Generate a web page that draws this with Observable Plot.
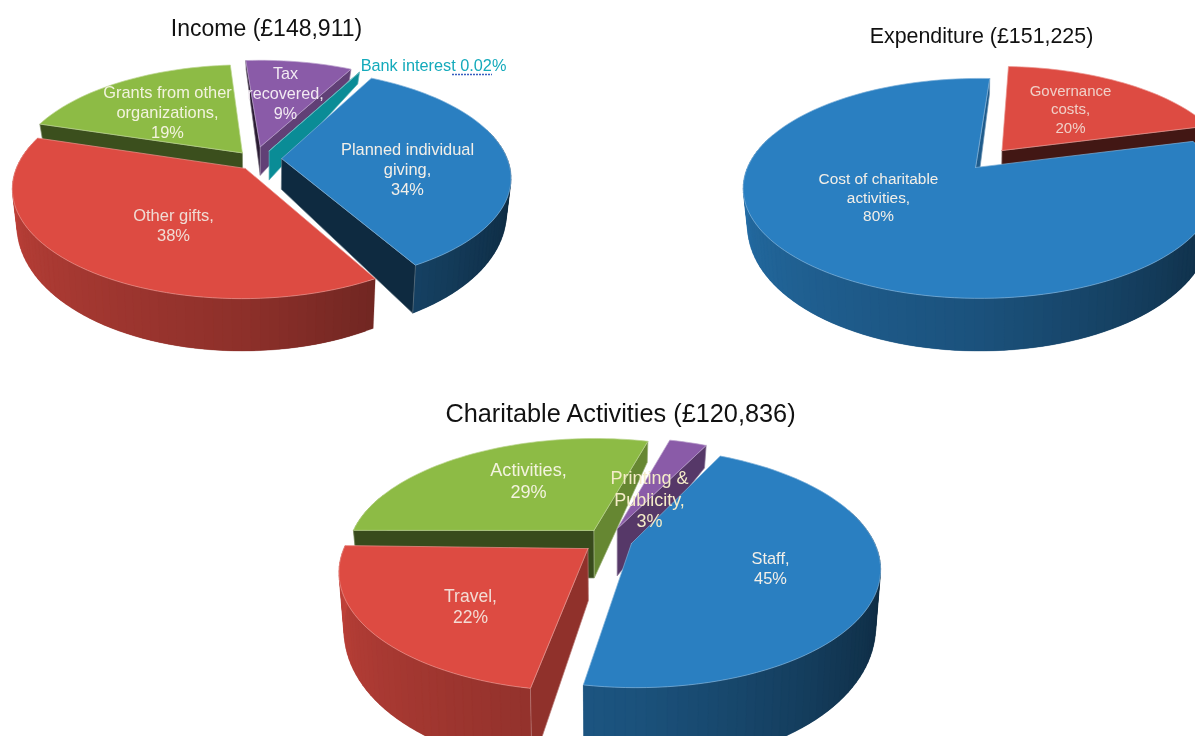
<!DOCTYPE html>
<html><head><meta charset="utf-8">
<style>html,body{margin:0;padding:0;background:#fff;overflow:hidden}svg{display:block;filter:blur(0.4px)}</style>
<script src="https://cdn.jsdelivr.net/npm/d3@7"></script>
<script src="https://cdn.jsdelivr.net/npm/@observablehq/plot@0.6"></script>
</head><body>
<script>
// ---- data ----
const incomeCategories = ["Planned individual\ngiving,\n34%", "Other gifts,\n38%", "Grants from other\norganizations,\n19%", "Tax\nrecovered,\n9%", "Bank interest 0.02%"];
const incomeValues = [34, 38, 19, 9, 0.02];
const expenditureCategories = ["Cost of charitable\nactivities,\n80%", "Governance\ncosts,\n20%"];
const expenditureValues = [80, 20];
const activityCategories = ["Staff,\n45%", "Travel,\n22%", "Activities,\n29%", "Printing &\nPublicity,\n3%"];
const activityValues = [45, 22, 29, 3];
const titles = ["Income (£148,911)", "Expenditure (£151,225)", "Charitable Activities (£120,836)"];

// ---- styling and layout ----
const BLUE="#2a7fc1", RED="#dd4b42", GREEN="#8dbb45", PURPLE="#8a5ba8", TEAL="#0a8c96";
const pies = [
 {title:titles[0], titleAt:[266,27], titleSize:23, cats:incomeCategories, vals:incomeValues,
  c:[262,165], rx:228, ry:107, p:0.17, D:32, q:0.62, rot:28,
  colors:[BLUE,RED,GREEN,PURPLE,TEAL],
  off:[[.085,-.065],[-.075,.027],[-.09,-.12],[-.01,-.18],[.03,-.14]],
  walls:[[.3,.33],[.5,.5],[.42,.6],[.3,.7],[1,1]],
  order:[3,4,2,0,1],
  labels:[[407,168,16.4,"#f3efe8"],[173,224,16.5,"#f0dcd4"],[167,111.5,16.4,"#f3f3df"],[285,92,16.2,"#f2eaf2"],[433,64,16.3,"#14aabb"]]},
 {title:titles[1], titleAt:[981,34], titleSize:21.4, cats:expenditureCategories, vals:expenditureValues,
  c:[979,167], rx:232, ry:106, p:0.19, D:34, q:0.55, rot:75,
  colors:[BLUE,RED],
  off:[[0,0],[.1,-.165]],
  apex:[[-.017,0],[.1,-.165]],
  walls:[[.5,.72],[.5,.3]],
  order:[1,0],
  labels:[[878,196,15.4,"#f3efe8"],[1070,108,15,"#f0d0c8"]]},
 {title:titles[2], titleAt:[620,412], titleSize:25.3, cats:activityCategories, vals:activityValues,
  c:[612,540], rx:242, ry:114, p:0.2, D:50, q:0.55, rot:26.4,
  colors:[BLUE,RED,GREEN,PURPLE],
  off:[[.078,.026],[-.095,.045],[-.09,-.09],[.02,-.105]],
  apex:[[.078,.026],[-.1,.07],[-.078,-.09],[.02,-.105]],
  walls:[[.5,.5],[.65,.5],[.4,.72],[.5,.62]],
  order:[3,2,0,1],
  labels:[[770,567,16.4,"#f3efe8"],[470,605,17.5,"#f3dcd4"],[528,479,18.1,"#f3f3df"],[649,498,18,"#f4ecc8"]]}
];
const CONVERGE = 0.982;
const outerShade = d3.scaleLinear([0,90,130,180,270,360],[.3,.3,.42,.64,.88,.88]); // brightness of the outer wall by angle

const polys = [], texts = [];
let pid = 0;
function addPoly(pts, fill, stroke, sw){
  pid++;
  [...pts, pts[0]].forEach(([x,y]) => polys.push({id:pid, x, y, fill, stroke, sw}));
}
const tint = (c,t) => d3.interpolateRgb(c,"#fff")(t);
const shade = (c,s) => s<1 ? d3.interpolateRgb("#000",c)(s) : c;

pies.forEach(P => {
  const total = d3.sum(P.vals);
  const proj = (u,v) => {
    const w = 1 - P.p*v;
    return {x:P.c[0]+P.rx*u/w, y:P.c[1]+P.ry*v/w, d:P.D*(1+P.q*v)};
  };
  const top = a => [a.x, a.y];
  const bot = a => [P.c[0]+(a.x-P.c[0])*CONVERGE, a.y+a.d];
  let a0 = P.rot;
  const spans = P.vals.map(v => { const s=[a0, a0+v/total*360]; a0=s[1]; return s; });
  P.order.forEach(i => {
    const [t0,t1] = spans[i], [ou,ov] = P.off[i], col = P.colors[i];
    const rim = th => { const r=th*Math.PI/180; return proj(ou+Math.sin(r), ov-Math.cos(r)); };
    const [au,av] = (P.apex||P.off)[i];
    const apex = proj(au,av);
    const n = Math.max(1, Math.ceil((t1-t0)/2));
    const ths = d3.range(n+1).map(k => t0+(t1-t0)*k/n);
    for (let k=0;k<n;k++){
      const mid = (ths[k]+ths[k+1])/2;
      if (Math.cos(mid*Math.PI/180) > .3) continue;
      const a=rim(ths[k]), b=rim(ths[Math.min(n,k+2)]); // each band overlaps the next, so no seams show
      const c = shade(col, outerShade(((mid%360)+360)%360));
      addPoly([top(a),top(b),bot(b),bot(a)], c, c, 0.2);
    }
    const radial = (th,inner,s) => {
      const a = rim(th), b = rim(inner), ex = a.x-apex.x, ey = a.y-apex.y;
      const side = ex*(b.y-apex.y)-ey*(b.x-apex.x);   // which side the slice's top lies on
      if (side*ex > 0) return;                        // the wall faces away from the viewer
      const c = shade(col,s);
      addPoly([top(apex),top(a),bot(a),bot(apex)], c, tint(c,.35), 0.7);
    };
    const nudge = Math.min(1,(t1-t0)/2);
    radial(t0,t0+nudge,P.walls[i][0]);
    radial(t1,t1-nudge,P.walls[i][1]);
    addPoly([top(apex), ...ths.map(t => top(rim(t)))], col, tint(col,.4), 0.7);
  });
  P.labels.forEach((l,i) => texts.push({x:l[0], y:l[1], size:l[2], fill:l[3], text:P.cats[i]}));
  texts.push({x:P.titleAt[0], y:P.titleAt[1], size:P.titleSize, fill:"#111", text:P.title});
});

const sizes = [...new Set(texts.map(t => t.size))];
const chart = Plot.plot({
  width:1195, height:736, margin:0,
  x:{domain:[0,1195], range:[0,1195], axis:null},
  y:{domain:[0,736], range:[0,736], axis:null},
  color:{type:"identity"},
  marks:[
    Plot.line(polys, {x:"x", y:"y", z:"id", fill:"fill", stroke:"stroke", strokeWidth:"sw", strokeLinejoin:"round"}),
    ...sizes.map(s => Plot.text(texts.filter(t => t.size===s), {
      x:"x", y:"y", text:"text", fill:"fill", fontSize:s, lineHeight:1.22, lineAnchor:"middle",
      textAnchor:"middle", fontFamily:"Liberation Sans, Arial, sans-serif"})),
    Plot.ruleY([74], {x1:452, x2:492, stroke:"#3a5fc0", strokeWidth:1.4, strokeDasharray:"2,1"})
  ]
});
document.body.appendChild(chart);
</script>
</body></html>
